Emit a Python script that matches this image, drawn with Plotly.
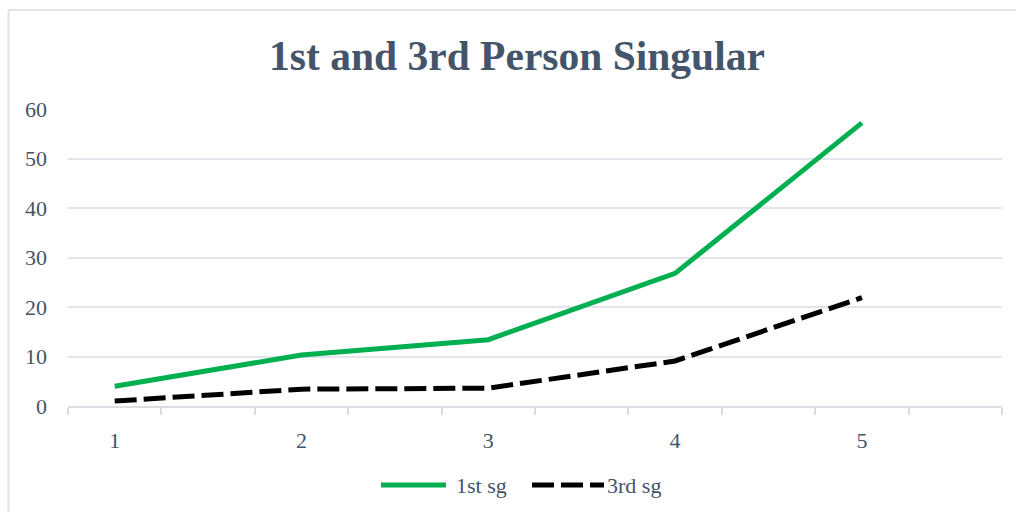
import plotly.graph_objects as go

categories = [1, 2, 3, 4, 5]
first_sg = [4.0, 10.3, 13.4, 26.8, 57.2]
third_sg = [1.0, 3.4, 3.6, 9.1, 21.9]
y_ticks = [0, 10, 20, 30, 40, 50, 60]
series_names = ["1st sg", "3rd sg"]

text_color = "#44546a"
font_family = "Liberation Serif, Times New Roman, serif"
green = "#00b050"
black = "#000000"
dash_pattern = "22px,7px"

L, R, T, B = 68, 14, 109, 106
W, H = 1016, 512
pw, ph = W - L - R, H - T - B


def px_x(x):
    return (x - L) / pw


def px_y(y):
    return (H - B - y) / ph


fig = go.Figure()
fig.add_trace(go.Scatter(x=categories, y=first_sg, mode="lines", name=series_names[0],
                         line=dict(color=green, width=5)))
fig.add_trace(go.Scatter(x=categories, y=third_sg, mode="lines", name=series_names[1],
                         line=dict(color=black, width=5, dash=dash_pattern)))

legend_y = px_y(485)
shapes = [
    dict(type="line", xref="paper", yref="paper", x0=px_x(8.5), x1=px_x(8.5),
         y0=px_y(10), y1=px_y(515), line=dict(color="#dfe3e8", width=2)),
    dict(type="line", xref="paper", yref="paper", x0=px_x(8.5), x1=px_x(1016),
         y0=px_y(10), y1=px_y(10), line=dict(color="#dfe3e8", width=2)),
    # legend samples
    dict(type="line", xref="paper", yref="paper", x0=px_x(381), x1=px_x(446),
         y0=legend_y, y1=legend_y, line=dict(color=green, width=5)),
    dict(type="line", xref="paper", yref="paper", x0=px_x(532), x1=px_x(604),
         y0=legend_y, y1=legend_y, line=dict(color=black, width=5, dash=dash_pattern)),
]
annotations = [
    dict(text=series_names[0], xref="paper", yref="paper", x=px_x(454), y=legend_y,
         xanchor="left", yanchor="middle", showarrow=False,
         font=dict(size=22, color=text_color, family=font_family)),
    dict(text=series_names[1], xref="paper", yref="paper", x=px_x(605), y=legend_y,
         xanchor="left", yanchor="middle", showarrow=False,
         font=dict(size=22, color=text_color, family=font_family)),
]

fig.update_layout(
    width=W, height=H,
    margin=dict(l=L, r=R, t=T, b=B),
    paper_bgcolor="white", plot_bgcolor="white",
    title=dict(text="<b>1st and 3rd Person Singular</b>", x=517 / W, xanchor="center",
               y=1 - 55 / H, yanchor="middle",
               font=dict(family=font_family, size=41.5, color=text_color)),
    font=dict(family=font_family, color=text_color, size=22),
    showlegend=False,
    shapes=shapes,
    annotations=annotations,
)

fig.update_xaxes(
    range=[0.75, 5.75], tickvals=categories, ticktext=[str(c) for c in categories],
    ticks="", showgrid=False, zeroline=False,
    showline=True, linecolor="#d9dde3", linewidth=2,
    tickfont=dict(size=22, color=text_color), ticklabelstandoff=14,
    minor=dict(tick0=0.75, dtick=0.5, ticks="outside", ticklen=7, tickcolor="#d9dde3",
               tickwidth=1.5, showgrid=False),
)
fig.update_yaxes(
    range=[0, 60], tickvals=y_ticks, showgrid=True, gridcolor="#e2e5ea", gridwidth=1.5,
    zeroline=False, showline=False, ticks="",
    tickfont=dict(size=22, color=text_color), ticklabelstandoff=20,
)

fig.write_html("out.html", config={"displayModeBar": False},
               post_script="document.body.style.margin='0';")
